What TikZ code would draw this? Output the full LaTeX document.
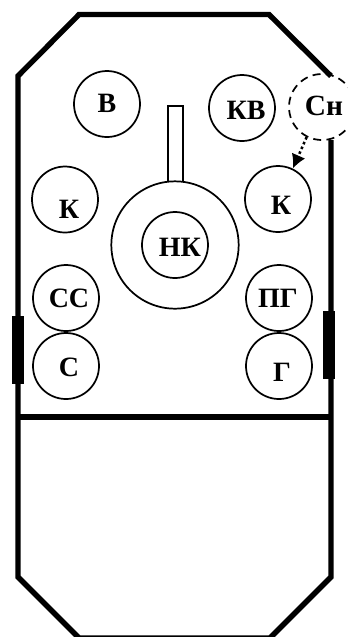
\documentclass[tikz,border=0pt]{standalone}
\usepackage{fontspec}
\usetikzlibrary{arrows.meta}
\setmainfont{Liberation Serif}
\begin{document}
\begin{tikzpicture}[x=.75pt,y=-.75pt]
\tikzset{
  unit/.style={draw,circle,line width=1.3pt,minimum size=49.5pt,inner sep=0pt},
  tag/.style={inner sep=0pt,font=\fontsize{21}{21}\selectfont\bfseries},
  hull/.style={line width=4pt,line join=miter},
  armor/.style={fill=black,draw=none}
}
\useasboundingbox (0,0) rectangle (348,637);
%exterior nodes
\path (79,14.5) coordinate (v0);
\path (269,14.5) coordinate (v1);
\path (331,76) coordinate (v2);
\path (331,140) coordinate (v3);
\path (331,577) coordinate (v4);
\path (270,638) coordinate (v5);
\path (79,638) coordinate (v6);
\path (18,577) coordinate (v7);
\path (18,76) coordinate (v8);
%outline
\begin{scope}
\clip (0,0) rectangle (348,637);
\draw [hull] (v2) -- (v1) -- (v0) -- (v8) -- (v7) -- (v6) -- (v5) -- (v4) -- (v3);
\end{scope}
\draw [hull] (18,417) -- (331,417);
%side plates
\fill [armor] (12,316) rectangle (24,384);
\fill [armor] (323,311) rectangle (335,379);
%turret
\draw [line width=1.3pt] (168,182) -- (168,106) -- (183,106) -- (183,182);
\node [unit,minimum size=95.5pt] (gun) at (175,245) {};
%crew circles
\node [unit] (nk) at (175,245) {};
\node [unit] (v) at (107,104) {};
\node [unit] (kv) at (242,108) {};
\node [unit,dash pattern=on 6pt off 4pt] (sn) at (322,107) {};
\node [unit] (kr) at (278,199) {};
\node [unit] (kl) at (65,199.5) {};
\node [unit] (cc) at (66,298) {};
\node [unit] (c) at (66,366) {};
\node [unit] (pg) at (279,298) {};
\node [unit] (g) at (279,366) {};
%crew labels
\node [tag] (nktag) at (180,247) {НК};
\node [tag] (vtag) at (107,103) {В};
\node [tag] (kvtag) at (246,110) {КВ};
\node [tag,font=\fontsize{22}{22}\selectfont\bfseries] (sntag) at (324,106) {Сн};
\node [tag] (krtag) at (281,205) {К};
\node [tag] (kltag) at (69,209) {К};
\node [tag] (cctag) at (69,298) {СС};
\node [tag] (ctag) at (69,367) {С};
\node [tag] (pgtag) at (278,298) {ПГ};
\node [tag] (gtag) at (282,372) {Г};
%dotted arrow
\draw [-{Latex[length=10.5pt,width=11pt]},dotted,line width=1.9pt] (sn.243) -- (kr.64);
\end{tikzpicture}
\end{document}
